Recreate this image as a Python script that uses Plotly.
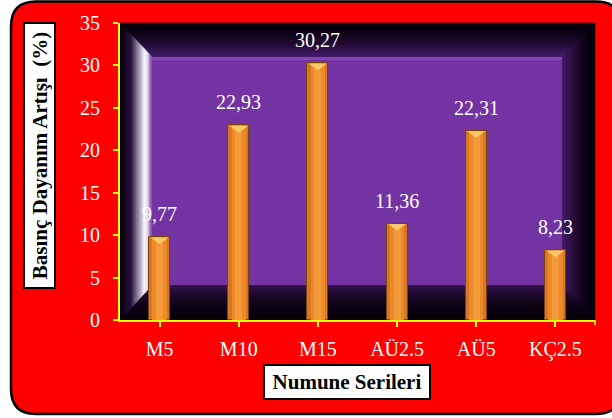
import plotly.graph_objects as go

# Series data
categories = ["M5", "M10", "M15", "AÜ2.5", "AÜ5", "KÇ2.5"]
values = [9.77, 22.93, 30.27, 11.36, 22.31, 8.23]
value_labels = ["9,77", "22,93", "30,27", "11,36", "22,31", "8,23"]
y_ticks = [0, 5, 10, 15, 20, 25, 30, 35]

FW, FH = 612, 418
L, R, T, B = 120, 595, 23, 320
PW, PH = R - L, B - T
FONT = "Liberation Serif"


def px(x):
    return (x - L) / PW


def py(y):
    return (B - y) / PH


def mix(c0, c1, t):
    t = max(0.0, min(1.0, t))
    return "rgb(%d,%d,%d)" % tuple(round(a + (b - a) * t) for a, b in zip(c0, c1))


shapes = []

# Rounded red panel behind everything
rl, rt, rr, rb, rad = 11, 1.5, 621, 414, 25
panel = (
    f"M {px(rl + rad)},{py(rt)} L {px(rr - rad)},{py(rt)} "
    f"Q {px(rr)},{py(rt)} {px(rr)},{py(rt + rad)} "
    f"L {px(rr)},{py(rb - rad)} Q {px(rr)},{py(rb)} {px(rr - rad)},{py(rb)} "
    f"L {px(rl + rad)},{py(rb)} Q {px(rl)},{py(rb)} {px(rl)},{py(rb - rad)} "
    f"L {px(rl)},{py(rt + rad)} Q {px(rl)},{py(rt)} {px(rl + rad)},{py(rt)} Z"
)
shapes.append(dict(type="path", xref="paper", yref="paper", path=panel,
                   fillcolor="#FF0000", line=dict(color="black", width=2.5),
                   layer="below"))

# Dark plot box
shapes.append(dict(type="rect", xref="paper", yref="paper", x0=0, x1=1, y0=0, y1=1,
                   fillcolor="rgb(6,0,12)", line=dict(width=0), layer="below"))

# Perspective walls of the box interior
IL, IR, IT, IB = 152, 562, 57, 285
BLACK = (6, 0, 12)
DARKP = (72, 30, 108)


def wall(p0, p1, q0, q1, color_fn, n=28):
    for i in range(n):
        ta, tb = i / n, (i + 1) / n
        def pt(p, q, t):
            return (p[0] + (q[0] - p[0]) * t, p[1] + (q[1] - p[1]) * t)
        a0, b0 = pt(p0, q0, ta), pt(p1, q1, ta)
        a1, b1 = pt(p0, q0, tb), pt(p1, q1, tb)
        path = (f"M {px(a0[0])},{py(a0[1])} L {px(b0[0])},{py(b0[1])} "
                f"L {px(b1[0])},{py(b1[1])} L {px(a1[0])},{py(a1[1])} Z")
        c = color_fn((ta + tb) / 2)
        shapes.append(dict(type="path", xref="paper", yref="paper", path=path,
                           fillcolor=c, line=dict(color=c, width=0.6), layer="below"))


def dark_ramp(t):
    return mix(BLACK, DARKP, t ** 1.6)


def floor_ramp(t):
    return mix(BLACK, (55, 22, 80), t ** 2)


def left_ramp(t):
    if t < 0.35:
        return mix(BLACK, (40, 18, 60), t / 0.35)
    if t < 0.76:
        return mix((40, 18, 60), (248, 242, 255), (t - 0.35) / 0.41)
    if t < 0.86:
        return "rgb(248,242,255)"
    return mix((248, 242, 255), (118, 62, 168), (t - 0.86) / 0.14)


wall((L, T), (R, T), (IL, IT), (IR, IT), dark_ramp)          # top
wall((R, T), (R, B), (IR, IT), (IR, IB), dark_ramp)          # right
wall((L, B), (R, B), (IL, IB), (IR, IB), floor_ramp)         # floor
wall((L, T), (L, B), (IL, IT), (IL, IB), left_ramp)          # left

# Purple back wall
shapes.append(dict(type="rect", xref="paper", yref="paper",
                   x0=px(IL), x1=px(IR), y0=py(IB), y1=py(IT),
                   fillcolor="#7433A3", line=dict(width=0), layer="below"))
shapes.append(dict(type="rect", xref="paper", yref="paper",
                   x0=px(IL), x1=px(IR), y0=py(IT + 3), y1=py(IT),
                   fillcolor="#8444B4", line=dict(width=0), layer="below"))

# Bevelled caps on the bar tops
for cat, v in zip(categories, values):
    shapes.append(dict(type="path", xref="x", yref="y", xsizemode="pixel",
                       ysizemode="pixel", xanchor=cat, yanchor=v,
                       path="M -9,-0.5 L 9,-0.5 L 0,-7 Z",
                       fillcolor="#FAC868", line=dict(width=0), layer="above"))

# Tick at the right end of the category axis
shapes.append(dict(type="line", xref="paper", yref="paper", x0=1, x1=1,
                   y0=0, y1=py(325), line=dict(color="#FFFF00", width=1.5),
                   layer="above"))

fig = go.Figure()
for w, col, line in [(0.265, "#D67822", dict(color="#7A4010", width=1)),
                     (0.18, "#EC8A2B", dict(width=0)),
                     (0.09, "#F49A38", dict(width=0))]:
    fig.add_trace(go.Bar(x=categories, y=values, width=w, marker=dict(color=col, line=line),
                         hoverinfo="skip", showlegend=False))

annotations = []
for cat, v, lab in zip(categories, values, value_labels):
    annotations.append(dict(x=cat, y=v, xref="x", yref="y", text=lab, showarrow=False,
                            yanchor="bottom", yshift=10,
                            font=dict(family=FONT, size=20, color="white")))

annotations.append(dict(x=px(39), y=py(156), xref="paper", yref="paper",
                        text="<b>Basınç Dayanım Artışı\u00a0 (%)</b>", textangle=-90,
                        showarrow=False, xanchor="center", yanchor="middle",
                        width=259, height=25, borderpad=2,
                        bgcolor="white", bordercolor="black", borderwidth=2,
                        font=dict(family=FONT, size=21, color="black")))
annotations.append(dict(x=px(347), y=py(382), xref="paper", yref="paper",
                        text="<b>Numune Serileri</b>", showarrow=False,
                        xanchor="center", yanchor="middle",
                        width=160, height=28, borderpad=2,
                        bgcolor="white", bordercolor="black", borderwidth=2,
                        font=dict(family=FONT, size=21, color="black")))

fig.update_layout(
    width=FW, height=FH,
    margin=dict(l=L, r=FW - R, t=T, b=FH - B),
    paper_bgcolor="white", plot_bgcolor="rgba(0,0,0,0)",
    barmode="overlay", bargap=0,
    shapes=shapes, annotations=annotations,
    xaxis=dict(type="category", categoryorder="array", categoryarray=categories,
               showline=True, linecolor="#FFFF00", linewidth=2,
               ticks="outside", tickcolor="#FFFF00", ticklen=5, tickwidth=1.5,
               ticklabelstandoff=5, showgrid=False, zeroline=False,
               tickfont=dict(family=FONT, size=20, color="white")),
    yaxis=dict(range=[0, 35], tickvals=y_ticks, showline=True, linecolor="#FFFF00",
               linewidth=2, ticks="outside", tickcolor="#FFFF00", ticklen=5,
               tickwidth=1.5, ticklabelstandoff=9, showgrid=False, zeroline=False,
               tickfont=dict(family=FONT, size=20, color="white")),
)

fig.write_html("out.html")
